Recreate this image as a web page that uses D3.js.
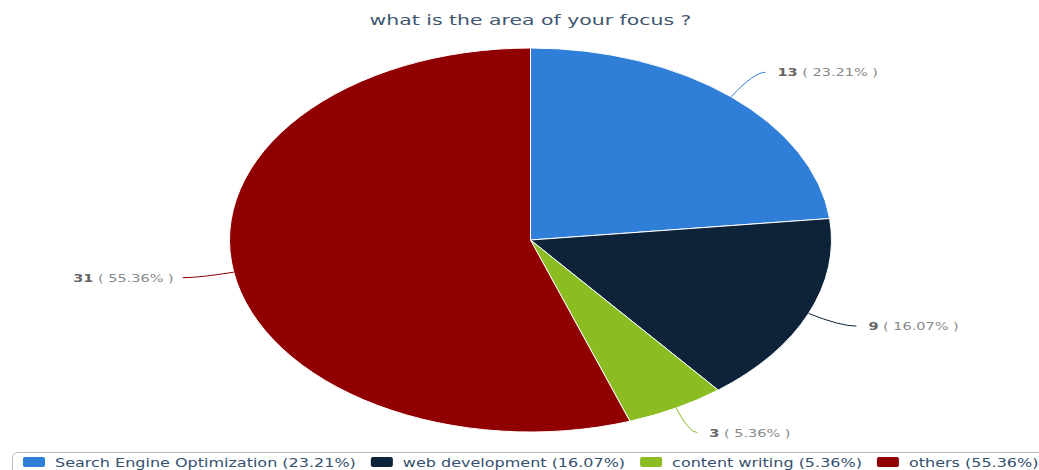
<!DOCTYPE html>
<html>
<head>
<meta charset="utf-8">
<script src="https://cdn.jsdelivr.net/npm/d3@7"></script>
<style>
  html, body { margin: 0; padding: 0; background: #fff; }
  svg { display: block; }
  text { font-family: "DejaVu Sans", Verdana, sans-serif; }
</style>
</head>
<body>
<svg id="chart" width="1039" height="470"></svg>
<script>
// Survey answers: "what is the area of your focus ?"
const categories = ["Search Engine Optimization", "web development", "content writing", "others"];
const counts = [13, 9, 3, 31];
const colors = ["#2f7ed8", "#0d233a", "#8bbc21", "#910000"];
const titleText = "what is the area of your focus ?";

const W = 1039, H = 470;
const cx = 530.5, cy = 240;
const R = 192;            // radius in circle space
const SX = 301 / 192;     // horizontal stretch of the plot
const TX = 1.38;          // horizontal stretch of the text

const total = d3.sum(counts);
const pct = counts.map(v => (v / total * 100).toFixed(2) + "%");
const rows = categories.map((c, i) => ({ name: c, value: counts[i], color: colors[i], pct: pct[i] }));

const svg = d3.select("#chart");

// Title
svg.append("text")
  .attr("transform", `translate(${cx},25) scale(${TX},1)`)
  .attr("text-anchor", "middle")
  .attr("fill", "#3e5670")
  .attr("font-size", 14.8)
  .text(titleText);

// Pie, starting at 12 o'clock and running clockwise
const pie = d3.pie().value(d => d.value).sort(null);
const arcs = pie(rows);
const arc = d3.arc().innerRadius(0).outerRadius(R);

const plot = svg.append("g").attr("transform", `translate(${cx},${cy}) scale(${SX},1)`);
plot.selectAll("path.slice")
  .data(arcs)
  .join("path")
  .attr("class", "slice")
  .attr("d", arc)
  .attr("fill", d => d.data.color)
  .attr("stroke", "#ffffff")
  .attr("stroke-width", 1)
  .attr("vector-effect", "non-scaling-stroke");

// Data labels with connectors; labels near the bottom are pulled in a little
const polar = (a, r) => [cx + SX * r * Math.sin(a), cy - r * Math.cos(a)];
const labels = svg.append("g");
arcs.forEach(d => {
  const a = (d.startAngle + d.endAngle) / 2;
  const right = Math.sin(a) >= 0;
  const sgn = right ? 1 : -1;
  const lr = Math.cos(a) < -0.7 ? 220 : 225;
  const p1 = polar(a, R);
  const p2 = polar(a, lr);
  const pm = polar(a, lr - 11);
  labels.append("path")
    .attr("d", `M${p1[0]},${p1[1]} Q${pm[0]},${p2[1]} ${p2[0]},${p2[1]}`)
    .attr("fill", "none")
    .attr("stroke", d.data.color)
    .attr("stroke-width", 1);
  const t = labels.append("text")
    .attr("transform", `translate(${p2[0] + sgn * (right ? 12 : 9)},${p2[1] + 4}) scale(${TX},1)`)
    .attr("text-anchor", right ? "start" : "end")
    .attr("font-size", 10.5)
    .attr("fill", "#8a8a8a");
  t.append("tspan").attr("font-weight", "bold").attr("fill", "#666666").text(d.data.value);
  t.append("tspan").text(" ( " + d.data.pct + " )");
});

// Legend
const legend = svg.append("g");
legend.append("rect")
  .attr("x", 12.5).attr("y", 452.5)
  .attr("width", 1040).attr("height", 30)
  .attr("rx", 5)
  .attr("fill", "none")
  .attr("stroke", "#b8b8b8")
  .attr("stroke-width", 1);

let x = 23;
rows.forEach(r => {
  legend.append("rect")
    .attr("x", x).attr("y", 457)
    .attr("width", 22).attr("height", 10)
    .attr("rx", 2)
    .attr("fill", r.color);
  const t = legend.append("text")
    .attr("transform", `translate(${x + 32},466.5) scale(${TX},1)`)
    .attr("font-size", 11.6)
    .attr("fill", "#34506e")
    .text(`${r.name} (${r.pct})`);
  x += 32 + t.node().getComputedTextLength() * TX + 15;
});
</script>
</body>
</html>
